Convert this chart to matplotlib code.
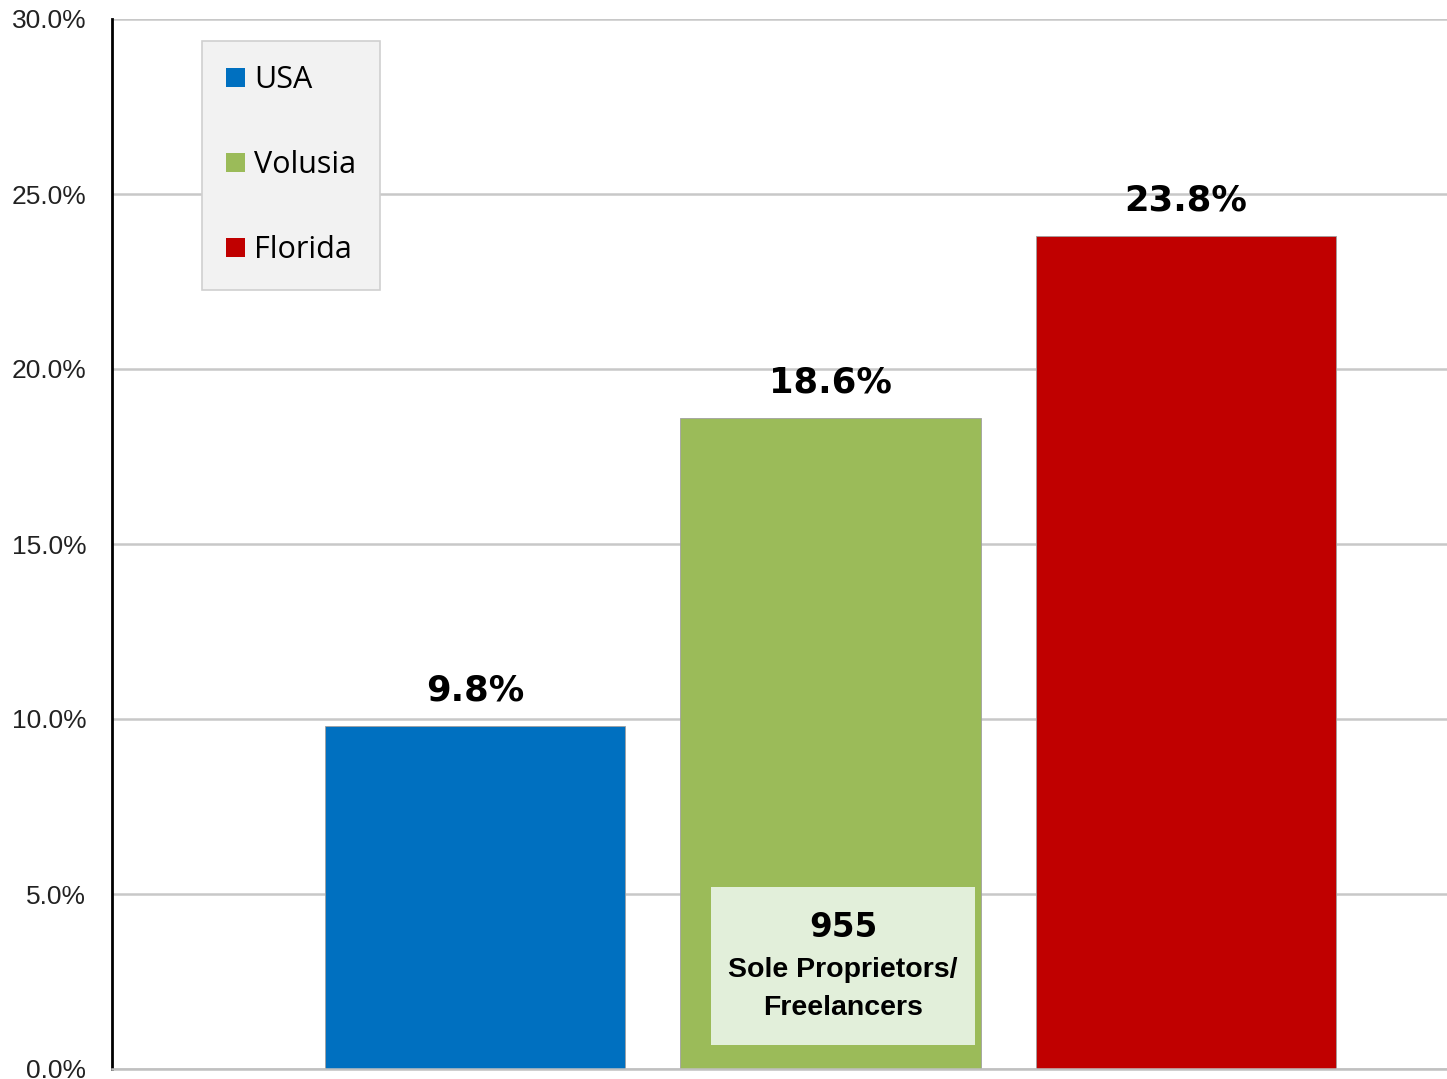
import matplotlib
matplotlib.use("Agg")
import matplotlib.pyplot as plt
from matplotlib.patches import Rectangle, Patch
from matplotlib.ticker import FuncFormatter

categories = ["USA", "Volusia", "Florida"]
values = [9.8, 18.6, 23.8]
colors = ["#0070C0", "#9BBB59", "#C00000"]
yticks = [0, 5, 10, 15, 20, 25, 30]
note_number = "955"
note_lines = ["Sole Proprietors/", "Freelancers"]

fig = plt.figure(figsize=(14.47, 10.79), dpi=100)
ax = fig.add_axes([112/1447, 1-1069/1079, 1-112/1447, (1069-19)/1079])

x = list(range(len(categories)))
bars = ax.bar(x, values, width=0.845, color=colors, edgecolor="#a0a0a0", linewidth=0.6, zorder=2)

ax.set_xlim(-1.021, 2.734)
ax.set_ylim(0, 30)
ax.set_yticks(yticks)
ax.yaxis.set_major_formatter(FuncFormatter(lambda v, p: f"{v:.1f}%"))
ax.tick_params(axis="y", length=0, pad=18.5, labelsize=19, labelcolor="#222222")
for t in ax.get_yticklabels():
    t.set_fontfamily("Liberation Sans")
ax.set_xticks([])
ax.grid(axis="y", color="#c8c8c8", linewidth=1.8, zorder=0)
ax.set_axisbelow(True)
for s in ["top", "right"]:
    ax.spines[s].set_visible(False)
ax.spines["left"].set_color("black")
ax.spines["left"].set_linewidth(2)
ax.spines["bottom"].set_color("#c0c0c0")
ax.spines["bottom"].set_linewidth(1.8)

for xi, v in zip(x, values):
    ax.annotate(f"{v:.1f}%", (xi, v), xytext=(0, 13), textcoords="offset points",
                ha="center", va="bottom", fontsize=25.5, fontweight="bold",
                fontfamily="DejaVu Sans", color="black")

# annotation box on Volusia bar
ax.add_patch(Rectangle((0.664, 0.686), 0.742, 4.514, facecolor="#E2EFDA",
                       edgecolor="none", zorder=3))
ax.text(1.035, 4.03, note_number, ha="center", va="center", fontsize=23.5,
        fontweight="bold", fontfamily="DejaVu Sans", zorder=4)
ax.text(1.035, 2.83, note_lines[0], ha="center", va="center", fontsize=20.5,
        fontweight="bold", fontfamily="Liberation Sans", zorder=4)
ax.text(1.035, 1.74, note_lines[1], ha="center", va="center", fontsize=20.5,
        fontweight="bold", fontfamily="Liberation Sans", zorder=4)

handles = [Patch(facecolor=c, edgecolor="none", label=l) for c, l in zip(colors, categories)]
leg = ax.legend(handles=handles, loc="upper left", bbox_to_anchor=(0.0674, 0.979),
                prop={"family": "Open Sans", "size": 22}, frameon=True, fancybox=False,
                facecolor="#F2F2F2", edgecolor="#D0D0D0", framealpha=1,
                labelspacing=1.8, handlelength=0.6, handleheight=0.6,
                handletextpad=0.3, borderpad=0.8, borderaxespad=0)
leg.get_frame().set_linewidth(1.2)

fig.savefig("out.png", dpi=100)
